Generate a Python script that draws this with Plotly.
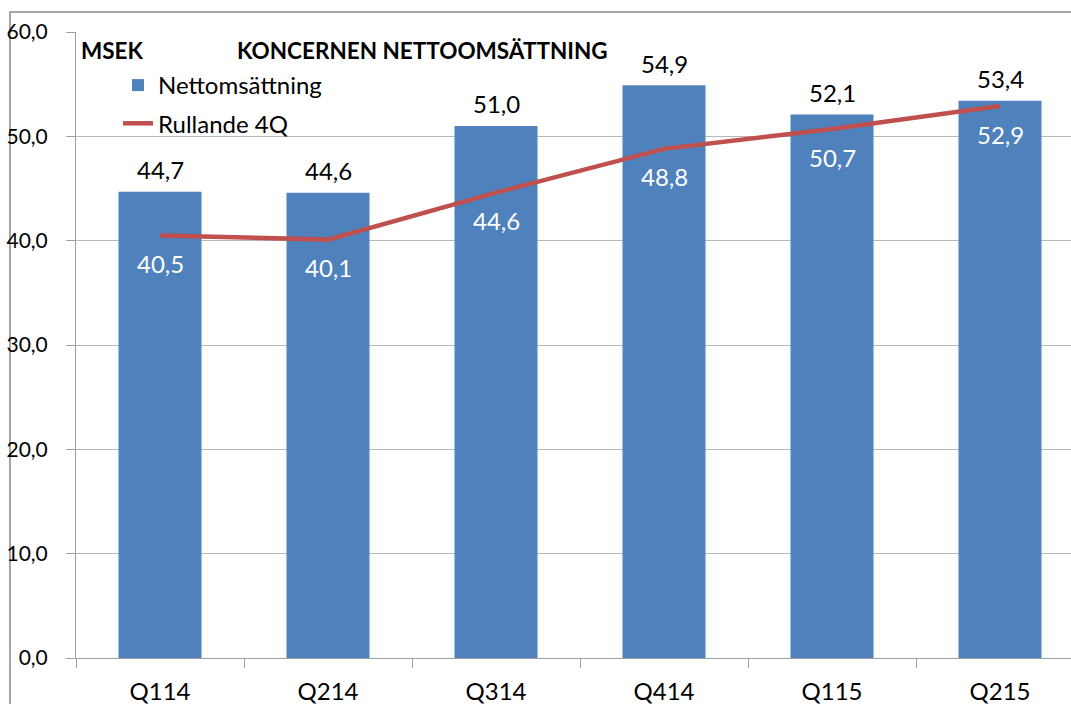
import plotly.graph_objects as go

categories = ["Q114", "Q214", "Q314", "Q414", "Q115", "Q215"]
nettoomsattning = [44.7, 44.6, 51.0, 54.9, 52.1, 53.4]
rullande_4q = [40.5, 40.1, 44.6, 48.8, 50.7, 52.9]
y_ticks = [0, 10, 20, 30, 40, 50, 60]
y_tick_labels = ["0,0", "10,0", "20,0", "30,0", "40,0", "50,0", "60,0"]

FONT = "Lato, 'Open Sans', sans-serif"
BLUE = "#4F81BD"
RED = "#C0504D"
GRID = "#B8B8B8"


def fmt(v):
    return f"{v:.1f}".replace(".", ",")


fig = go.Figure()
fig.add_trace(go.Bar(
    x=categories, y=nettoomsattning, name="Nettomsättning",
    marker=dict(color=BLUE, line=dict(width=0)), width=0.494,
    legendgroup="a", hoverinfo="skip",
))
fig.add_trace(go.Scatter(
    x=categories, y=rullande_4q, name="Rullande 4Q", mode="lines",
    line=dict(color=RED, width=4.5), legendgroup="b", hoverinfo="skip",
))

annotations = []
for c, v in zip(categories, nettoomsattning):
    annotations.append(dict(x=c, y=v, xref="x", yref="y", text=fmt(v),
                            showarrow=False, yanchor="middle", yshift=22,
                            font=dict(family=FONT, size=24, color="black")))
for c, v in zip(categories, rullande_4q):
    annotations.append(dict(x=c, y=v, xref="x", yref="y", text=fmt(v),
                            showarrow=False, yanchor="middle", yshift=-28,
                            font=dict(family=FONT, size=24, color="white")))

plot_w = 1071 - 76
plot_h = 704 - 32 - 46


def px_x(p):
    return (p - 76) / plot_w


def px_y(p):
    return (658 - p) / plot_h


annotations.append(dict(x=px_x(79), y=px_y(50), xref="paper", yref="paper",
                        text="<b>MSEK</b>", showarrow=False, xanchor="left",
                        yanchor="middle",
                        font=dict(family=FONT, size=22.5, color="black")))
annotations.append(dict(x=px_x(235), y=px_y(50), xref="paper", yref="paper",
                        text="<b>KONCERNEN NETTOOMSÄTTNING</b>", showarrow=False,
                        xanchor="left", yanchor="middle",
                        font=dict(family=FONT, size=22.5, color="black")))

fig.update_layout(
    width=1071, height=704,
    margin=dict(l=76, r=0, t=32, b=46, pad=0),
    paper_bgcolor="white", plot_bgcolor="white",
    font=dict(family=FONT, size=24, color="black"),
    showlegend=True,
    legend=dict(x=px_x(118), y=px_y(63), xanchor="left", yanchor="top",
                bgcolor="rgba(0,0,0,0)", traceorder="grouped",
                tracegroupgap=4, itemwidth=30,
                font=dict(family=FONT, size=24, color="black")),
    annotations=annotations,
    shapes=[dict(type="rect", xref="paper", yref="paper",
                 x0=px_x(10), x1=1.2, y0=-0.3, y1=px_y(12),
                 line=dict(color="#A6A6A6", width=2), layer="below")],
    xaxis=dict(range=[-0.5, -0.5 + plot_w / 168], tickson="boundaries",
               ticks="outside", ticklen=9, tickcolor="#A0A0A0",
               showline=True, linecolor="#A0A0A0", linewidth=1,
               showgrid=False, tickfont=dict(family=FONT, size=24),
               ticklabelstandoff=12),
    yaxis=dict(range=[0, 60], tickvals=y_ticks, ticktext=y_tick_labels,
               ticks="outside", ticklen=9, tickcolor="#A0A0A0",
               showline=True, linecolor="#A0A0A0", linewidth=1,
               showgrid=True, gridcolor=GRID, gridwidth=1,
               zeroline=False, tickfont=dict(family=FONT, size=21),
               ticklabelstandoff=14),
)

fig.write_html(
    "out.html",
    config={"displayModeBar": False, "staticPlot": True},
    post_script="document.body.style.margin='0';document.body.style.overflow='hidden';",
)
